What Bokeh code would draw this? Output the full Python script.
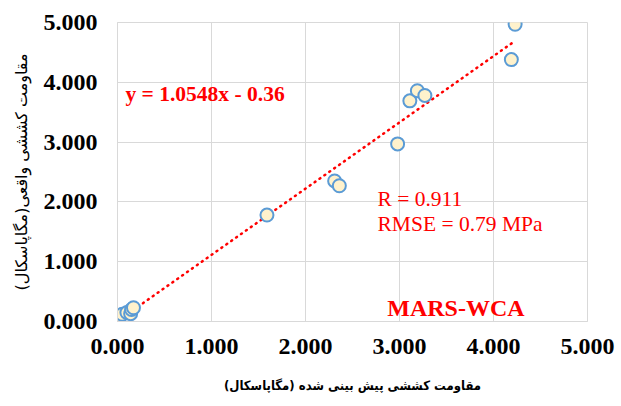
import numpy as np
from bokeh.plotting import figure
from bokeh.models import Range1d, FixedTicker, NumeralTickFormatter, Label, ColumnDataSource
from bokeh.embed import file_html
from bokeh.resources import INLINE

# data
predicted = [0.01, 0.05, 0.10, 0.14, 0.15, 0.17, 1.59, 2.31, 2.36, 2.98, 3.11, 3.19, 3.27, 4.19, 4.23]
actual = [0.07, 0.12, 0.15, 0.13, 0.20, 0.23, 1.78, 2.35, 2.27, 2.97, 3.69, 3.86, 3.78, 4.38, 4.97]
ticks = [0, 1, 2, 3, 4, 5]
x_title = "مقاومت کششی پیش بینی شده (مگاپاسکال)"
y_title = "مقاومت کششی واقعی(مگاپاسکال)"
eq_text = "y = 1.0548x - 0.36"
r_text = "R = 0.911"
rmse_text = "RMSE = 0.79 MPa"
model_text = "MARS-WCA"

p = figure(width=621, height=406, output_backend="svg", toolbar_location=None,
           x_range=Range1d(0, 5), y_range=Range1d(0, 5),
           min_border_left=117, min_border_right=34, min_border_top=22, min_border_bottom=85)
p.outline_line_color = "#D9D9D9"
p.background_fill_color = "white"
p.border_fill_color = "white"

for ax in (p.xaxis[0], p.yaxis[0]):
    ax.ticker = FixedTicker(ticks=ticks)
    ax.formatter = NumeralTickFormatter(format="0.000")
    ax.major_label_text_font = "Liberation Serif"
    ax.major_label_text_font_style = "bold"
    ax.major_label_text_font_size = "24px"
    ax.major_label_text_color = "black"
    ax.axis_line_color = "#D9D9D9"
    ax.major_tick_line_color = None
    ax.minor_tick_line_color = None
    ax.major_tick_out = 0
    ax.major_tick_in = 0
    ax.axis_label_text_color = "black"

p.xaxis.axis_label = x_title
p.xaxis.major_label_standoff = 17
p.xaxis.axis_label_standoff = 21
p.xaxis.axis_label_text_font = "DejaVu Sans Condensed, DejaVu Sans"
p.xaxis.axis_label_text_font_size = "13px"
p.xaxis.axis_label_text_font_style = "bold"

p.yaxis.axis_label = y_title
p.yaxis.major_label_standoff = 20
p.yaxis.axis_label_standoff = 10
p.yaxis.axis_label_text_font = "DejaVu Sans"
p.yaxis.axis_label_text_font_size = "16px"
p.yaxis.axis_label_text_font_style = "normal"

p.grid.grid_line_color = "#D9D9D9"
p.grid.grid_line_width = 1

# trendline (least squares on the data, over the data span)
slope, intercept = np.polyfit(predicted, actual, 1)
xs = [min(predicted), max(predicted)]
ys = [slope * v + intercept for v in xs]
p.line(xs, ys, line_color="#FF0000", line_width=2.5, line_dash="1 5", line_cap="round")

src = ColumnDataSource(dict(x=predicted, y=actual))
p.scatter("x", "y", source=src, size=13, fill_color="#FFF2CC", line_color="#5B9BD5", line_width=2)

p.add_layout(Label(x=0.085, y=3.81, text=eq_text, text_font="Liberation Serif", text_font_style="bold",
                   text_font_size="21.5px", text_color="#FF0000", text_baseline="alphabetic"))
p.add_layout(Label(x=2.766, y=2.05, text=r_text, text_font="Liberation Serif",
                   text_font_size="21.5px", text_color="#FF0000", text_baseline="alphabetic"))
p.add_layout(Label(x=2.766, y=1.63, text=rmse_text, text_font="Liberation Serif",
                   text_font_size="21.5px", text_color="#FF0000", text_baseline="alphabetic"))
p.add_layout(Label(x=2.87, y=0.23, text=model_text, text_font="Liberation Serif", text_font_style="bold",
                   text_font_size="24px", text_color="#FF0000", text_baseline="alphabetic"))

open("out.html", "w").write(file_html(p, INLINE))
